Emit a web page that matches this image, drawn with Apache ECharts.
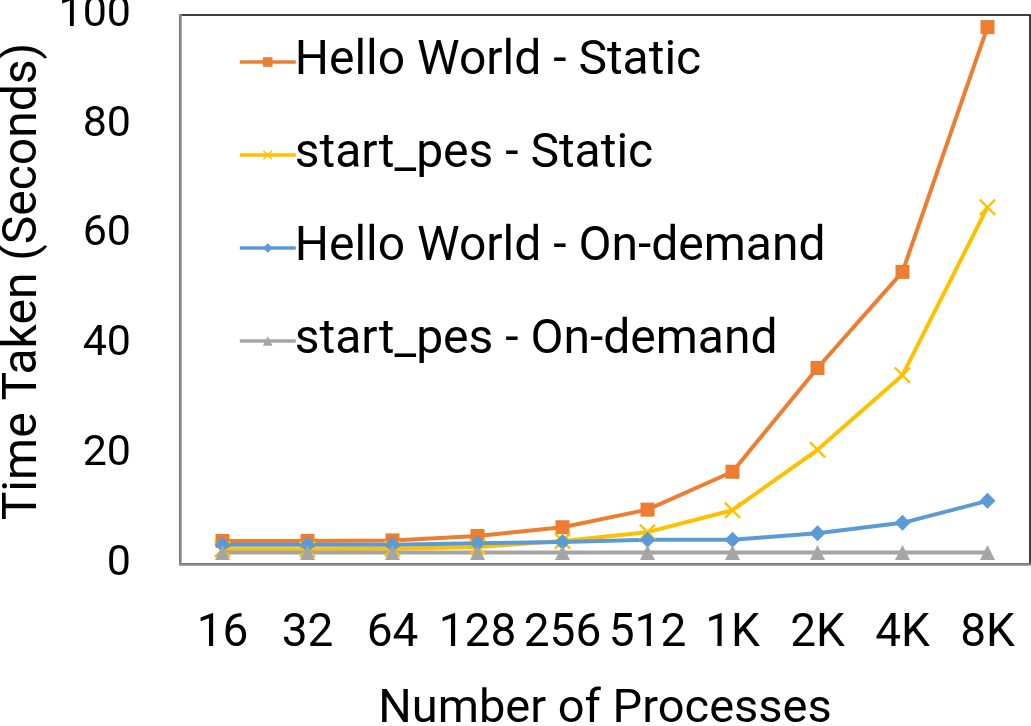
<!DOCTYPE html>
<html>
<head>
<meta charset="utf-8">
<script src="https://cdn.jsdelivr.net/npm/echarts@6/dist/echarts.min.js"></script>
<style>
  html, body { margin: 0; padding: 0; background: #fff; }
  #chart { width: 1031px; height: 726px; }
</style>
</head>
<body>
<div id="chart"></div>
<script>
// Process counts on the x axis
const categories = ['16', '32', '64', '128', '256', '512', '1K', '2K', '4K', '8K'];

// Launch time in seconds for each configuration
const helloStatic = [4.2, 4.2, 4.3, 5.1, 6.7, 9.9, 16.8, 35.7, 53.2, 97.8];
const startPesStatic = [2.7, 2.7, 2.8, 3.1, 4.2, 5.8, 9.8, 20.8, 34.4, 65.0];
const helloOnDemand = [3.5, 3.5, 3.5, 3.8, 4.0, 4.4, 4.4, 5.6, 7.5, 11.5];
const startPesOnDemand = [2.1, 2.1, 2.1, 2.1, 2.1, 2.1, 2.1, 2.1, 2.1, 2.1];

const yTicks = { min: 0, max: 100, interval: 20 };

const FONT = 'Roboto, "Liberation Sans", sans-serif';
const crossSymbol = 'path://M0,1 L1,0 L5,4 L9,0 L10,1 L6,5 L10,9 L9,10 L5,6 L1,10 L0,9 L4,5 Z';

function lineSeries(name, data, color, symbol, size) {
  return {
    name: name,
    type: 'line',
    data: data,
    symbol: symbol,
    symbolSize: size,
    showAllSymbol: true,
    lineStyle: { color: color, width: 4 },
    itemStyle: { color: color },
    emphasis: { disabled: true },
    animation: false
  };
}

const chart = echarts.init(document.getElementById('chart'), null, { renderer: 'canvas' });
chart.setOption({
  backgroundColor: '#ffffff',
  textStyle: { fontFamily: FONT },
  grid: {
    left: 180, right: 1, top: 15, bottom: 162,
    outerBoundsMode: 'none',
    containLabel: false,
    show: true,
    borderColor: '#000000',
    borderWidth: 1.5,
    backgroundColor: 'transparent'
  },
  legend: {
    orient: 'vertical',
    left: 233,
    top: 30,
    itemWidth: 56,
    itemHeight: 12,
    itemGap: 39,
    lineStyle: { width: 3.5 },
    textStyle: { fontSize: 48, color: '#000', fontFamily: FONT, lineHeight: 54, padding: [0, 0, 0, -6] },
    data: ['Hello World - Static', 'start_pes - Static', 'Hello World - On-demand', 'start_pes - On-demand']
  },
  xAxis: {
    type: 'category',
    data: categories,
    boundaryGap: true,
    axisLine: { show: true, lineStyle: { color: '#8c8c8c', width: 2.5 } },
    axisTick: { show: false },
    axisLabel: { interval: 0, fontSize: 46, color: '#000', margin: 47, fontFamily: FONT },
    name: 'Number of Processes',
    nameLocation: 'middle',
    nameGap: 123,
    nameTextStyle: { fontSize: 47, color: '#000', fontFamily: FONT }
  },
  yAxis: {
    type: 'value',
    min: yTicks.min,
    max: yTicks.max,
    interval: yTicks.interval,
    splitLine: { show: false },
    axisLine: { show: true, lineStyle: { color: '#8c8c8c', width: 2.5 } },
    axisTick: { show: false },
    axisLabel: { fontSize: 43, color: '#000', margin: 49, fontFamily: FONT },
    name: 'Time Taken (Seconds)',
    nameLocation: 'middle',
    nameGap: 125,
    nameTextStyle: { fontSize: 48, color: '#000', fontFamily: FONT, padding: [0, 0, 0, 16] }
  },
  series: [
    lineSeries('Hello World - Static', helloStatic, '#ED7D31', 'rect', 14),
    lineSeries('start_pes - Static', startPesStatic, '#FFC000', crossSymbol, 17),
    lineSeries('Hello World - On-demand', helloOnDemand, '#5B9BD5', 'diamond', 16),
    lineSeries('start_pes - On-demand', startPesOnDemand, '#A5A5A5', 'triangle', 15)
  ]
});
</script>
</body>
</html>
